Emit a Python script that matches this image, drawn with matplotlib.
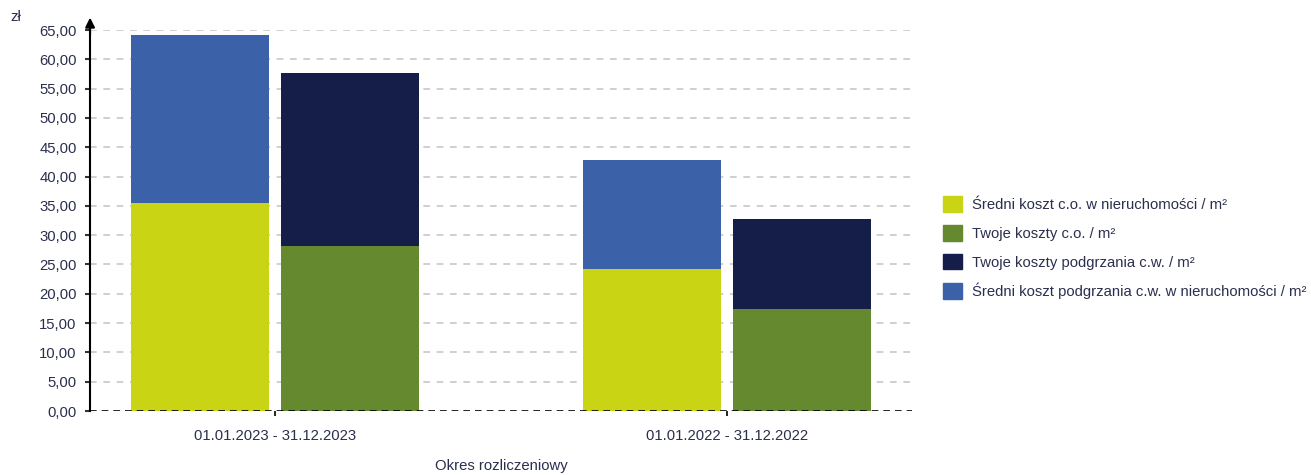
import matplotlib
matplotlib.use('Agg')
import matplotlib.pyplot as plt
from matplotlib.patches import Patch
import numpy as np

plt.rcParams['font.family'] = ['Liberation Sans', 'DejaVu Sans']

# data (zł / m2)
periods = ['01.01.2023 - 31.12.2023', '01.01.2022 - 31.12.2022']
avg_co = [35.5, 24.2]        # Średni koszt c.o. w nieruchomości
avg_cw = [28.6, 18.6]        # Średni koszt podgrzania c.w. (stacked on avg_co)
your_co = [28.1, 17.4]       # Twoje koszty c.o.
your_cw = [29.6, 15.3]       # Twoje koszty podgrzania c.w. (stacked on your_co)

labels = ['Średni koszt c.o. w nieruchomości / m²',
          'Twoje koszty c.o. / m²',
          'Twoje koszty podgrzania c.w. / m²',
          'Średni koszt podgrzania c.w. w nieruchomości / m²']
colors = ['#c9d415', '#64892f', '#151e48', '#3b61a8']
txt = '#2b2f4e'
fs = 10.7

fig = plt.figure(figsize=(13.11, 4.75), dpi=100)
ax = fig.add_axes([0.0687, 0.1347, 0.6270, 0.8021])

x = np.arange(len(periods))
w = 0.305
off = 0.166

ax.bar(x - off, avg_co, w, color=colors[0], zorder=3)
ax.bar(x - off, avg_cw, w, bottom=avg_co, color=colors[3], zorder=3)
ax.bar(x + off, your_co, w, color=colors[1], zorder=3)
ax.bar(x + off, your_cw, w, bottom=your_co, color=colors[2], zorder=3)

ax.set_xlim(-0.409, 1.409)
ax.set_ylim(0, 65)
yt = np.arange(0, 66, 5)
ax.set_yticks(yt)
ax.set_yticklabels([('%.2f' % v).replace('.', ',') for v in yt], fontsize=fs, color=txt)
for v in yt[1:]:
    ax.axhline(v, color='#c8c8c8', lw=1.2, ls=(0, (4, 4)), zorder=1)
ax.axhline(0, color='black', lw=1.2, ls=(0, (4, 3)), zorder=4)

ax.set_xticks(x)
ax.set_xticklabels(periods, fontsize=fs, color=txt)
ax.tick_params(axis='x', length=3.6, width=1.2, color='black', pad=9)
ax.tick_params(axis='y', length=3.6, width=1.5, color='#333333', pad=6)

for s in ['top', 'right', 'bottom']:
    ax.spines[s].set_visible(False)
ax.spines['left'].set_linewidth(1.5)
ax.spines['left'].set_zorder(5)
# arrow at top of y axis
ax.annotate('', xy=(0, 1.04), xytext=(0, 0.98), xycoords='axes fraction',
            arrowprops=dict(arrowstyle='-|>', color='black', lw=1.5,
                            mutation_scale=14), annotation_clip=False)

fig.text(0.0687 + 0.6270 / 2, 0.019, 'Okres rozliczeniowy', fontsize=fs,
         color=txt, ha='center', va='center')
fig.text(0.0076, 0.965, 'zł', fontsize=fs, color=txt, va='center')

handles = [Patch(color=c, label=l) for c, l in zip(colors, labels)]
fig.legend(handles=handles, loc='upper left', bbox_to_anchor=(0.7193, 0.587),
           frameon=False, fontsize=fs, handlelength=1.3, handleheight=1.25,
           handletextpad=0.65, labelspacing=0.87, labelcolor=txt,
           borderpad=0, borderaxespad=0)

fig.savefig('out.png', dpi=100)
